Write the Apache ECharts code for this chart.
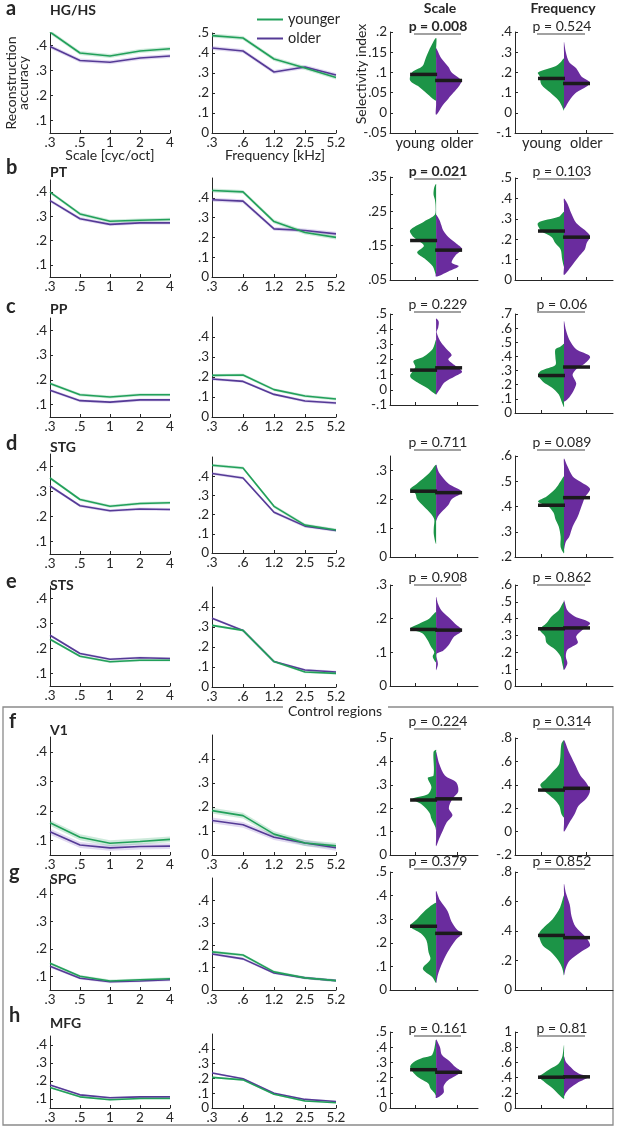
<!DOCTYPE html>
<html>
<head>
<meta charset="utf-8">
<script src="https://cdn.jsdelivr.net/npm/echarts@6/dist/echarts.min.js"></script>
<style>
  html, body { margin: 0; padding: 0; background: #fff; }
  #chart { width: 617px; height: 1128px; }
</style>
</head>
<body>
<div id="chart"></div>
<script>
// ---- data ----
const regions = ['HG/HS', 'PT', 'PP', 'STG', 'STS', 'V1', 'SPG', 'MFG']
const letters = ['a', 'b', 'c', 'd', 'e', 'f', 'g', 'h']
const scaleTicks = ['.3', '.5', '1', '2', '4']
const freqTicks = ['.3', '.6', '1.2', '2.5', '5.2']

const scaleYoung = [
  [0.454, 0.37, 0.358, 0.378, 0.387],
  [0.40, 0.31, 0.28, 0.284, 0.287],
  [0.185, 0.14, 0.131, 0.14, 0.14],
  [0.354, 0.268, 0.241, 0.252, 0.255],
  [0.237, 0.169, 0.147, 0.153, 0.153],
  [0.159, 0.11, 0.09, 0.096, 0.103],
  [0.147, 0.1, 0.083, 0.087, 0.091],
  [0.164, 0.112, 0.096, 0.103, 0.103]
]
const scaleOlder = [
  [0.396, 0.34, 0.333, 0.35, 0.358],
  [0.365, 0.29, 0.267, 0.273, 0.273],
  [0.158, 0.116, 0.11, 0.119, 0.119],
  [0.322, 0.243, 0.223, 0.23, 0.228],
  [0.253, 0.18, 0.157, 0.163, 0.16],
  [0.129, 0.084, 0.074, 0.079, 0.08],
  [0.136, 0.093, 0.08, 0.083, 0.087],
  [0.178, 0.123, 0.107, 0.112, 0.112]
]
const freqYoung = [
  [0.487, 0.475, 0.37, 0.325, 0.277],
  [0.437, 0.43, 0.28, 0.225, 0.2],
  [0.208, 0.21, 0.137, 0.105, 0.09],
  [0.457, 0.443, 0.243, 0.145, 0.12],
  [0.308, 0.283, 0.127, 0.075, 0.068],
  [0.185, 0.164, 0.087, 0.05, 0.038],
  [0.17, 0.156, 0.081, 0.054, 0.042],
  [0.207, 0.19, 0.093, 0.047, 0.035]
]
const freqOlder = [
  [0.425, 0.41, 0.305, 0.33, 0.29],
  [0.39, 0.383, 0.243, 0.235, 0.218],
  [0.19, 0.178, 0.113, 0.08, 0.07],
  [0.414, 0.391, 0.212, 0.14, 0.117],
  [0.344, 0.283, 0.127, 0.085, 0.075],
  [0.144, 0.126, 0.074, 0.05, 0.03],
  [0.161, 0.139, 0.076, 0.054, 0.042],
  [0.237, 0.198, 0.1, 0.058, 0.044]
]
// half width of the shaded error band
const bandScale = [0.008, 0.007, 0.006, 0.006, 0.005, 0.01, 0.005, 0.005]
const bandFreq = [0.01, 0.01, 0.007, 0.008, 0.006, 0.012, 0.006, 0.006]

// violin outlines: [value, relative half width]
const violinScaleYoung = [
  [[0.185, 0], [0.155, 0.27], [0.135, 0.4], [0.115, 0.53], [0.1, 0.93], [0.08, 1], [0.065, 0.67], [0.05, 0.4], [0.035, 0.13], [0.03, 0]],
  [[0.33, 0], [0.32, 0.07], [0.3, 0.1], [0.285, 0.05], [0.265, 0.02], [0.24, 0.05], [0.22, 0.47], [0.195, 1], [0.175, 0.87], [0.15, 0.47], [0.13, 0.73], [0.11, 0.4], [0.09, 0.13], [0.065, 0]],
  [[0.33, 0], [0.27, 0.13], [0.22, 0.47], [0.19, 0.87], [0.15, 0.8], [0.09, 1], [0.05, 0.73], [0.01, 0.33], [-0.03, 0]],
  [[0.32, 0], [0.29, 0.27], [0.255, 0.73], [0.235, 1], [0.22, 0.8], [0.2, 0.73], [0.175, 0.47], [0.15, 0.2], [0.13, 0.07], [0.1, 0.09], [0.08, 0.09], [0.055, 0.04], [0.045, 0]],
  [[0.22, 0], [0.2, 0.27], [0.187, 0.6], [0.17, 1], [0.157, 0.53], [0.137, 0.33], [0.117, 0.2], [0.1, 0.07], [0.087, 0.13], [0.07, 0]],
  [[0.45, 0], [0.44, 0.1], [0.34, 0.1], [0.33, 0.32], [0.29, 0.18], [0.26, 0.32], [0.24, 0.91], [0.215, 0.54], [0.18, 0.25], [0.155, 0.18], [0.12, 0.03], [0.105, 0]],
  [[0.37, 0], [0.335, 0.44], [0.3, 0.74], [0.27, 1], [0.24, 0.59], [0.21, 0.37], [0.16, 0.29], [0.13, 0.22], [0.09, 0.51], [0.055, 0.15], [0.03, 0]],
  [[0.45, 0], [0.35, 0.15], [0.33, 0.51], [0.3, 0.88], [0.27, 1], [0.22, 0.81], [0.19, 0.59], [0.16, 0.29], [0.13, 0.22], [0.1, 0.07], [0.08, 0]]
]
const violinScaleOlder = [
  [[0.16, 0], [0.135, 0.2], [0.114, 0.47], [0.1, 0.6], [0.08, 0.97], [0.065, 0.87], [0.05, 0.67], [0.035, 0.47], [0.02, 0.27], [-0.005, 0]],
  [[0.24, 0], [0.225, 0.13], [0.21, 0.2], [0.195, 0.27], [0.175, 0.47], [0.155, 0.8], [0.14, 1], [0.12, 0.73], [0.1, 0.6], [0.09, 0.87], [0.075, 0.47], [0.06, 0]],
  [[0.47, 0], [0.45, 0.1], [0.41, 0.08], [0.38, 0.02], [0.31, 0.2], [0.27, 0.4], [0.23, 0.6], [0.2, 0.47], [0.16, 0.73], [0.12, 1], [0.09, 0.73], [0.05, 0.33], [0, 0.13], [-0.03, 0]],
  [[0.32, 0], [0.29, 0.13], [0.255, 0.47], [0.225, 1], [0.2, 0.6], [0.18, 0.47], [0.155, 0.2], [0.14, 0.07], [0.125, 0]],
  [[0.265, 0], [0.245, 0.07], [0.225, 0.2], [0.205, 0.47], [0.185, 0.73], [0.165, 1], [0.145, 0.67], [0.12, 0.47], [0.105, 0.27], [0.095, 0.02], [0.065, 0.07], [0.047, 0]],
  [[0.44, 0], [0.39, 0.12], [0.34, 0.34], [0.31, 0.78], [0.27, 0.85], [0.24, 0.63], [0.2, 0.49], [0.17, 0.63], [0.14, 0.41], [0.105, 0.26], [0.07, 0.12], [0.037, 0]],
  [[0.42, 0], [0.38, 0.15], [0.335, 0.44], [0.29, 0.59], [0.255, 0.81], [0.24, 1], [0.21, 0.74], [0.16, 0.44], [0.11, 0.22], [0.065, 0.07], [0.03, 0]],
  [[0.45, 0], [0.4, 0.15], [0.35, 0.22], [0.31, 0.51], [0.27, 0.74], [0.24, 0.96], [0.21, 0.74], [0.18, 0.44], [0.145, 0.29], [0.1, 0.29], [0.065, 0]]
]
const violinFreqYoung = [
  [[0.27, 0], [0.25, 0.13], [0.23, 0.33], [0.2, 1], [0.18, 0.93], [0.14, 0.87], [0.1, 0.53], [0.06, 0.2], [0.03, 0.07], [0.01, 0]],
  [[0.335, 0], [0.31, 0.2], [0.28, 1], [0.24, 0.87], [0.21, 0.47], [0.18, 0.33], [0.15, 0.13], [0.1, 0.07], [0.065, 0]],
  [[0.49, 0], [0.47, 0.13], [0.45, 0.33], [0.39, 0.33], [0.34, 0.33], [0.3, 0.87], [0.27, 1], [0.22, 0.8], [0.18, 0.47], [0.13, 0.2], [0.07, 0.07], [0.04, 0]],
  [[0.52, 0], [0.5, 0.13], [0.47, 0.33], [0.44, 0.67], [0.42, 1], [0.4, 0.6], [0.375, 0.4], [0.35, 0.33], [0.32, 0.2], [0.28, 0.13], [0.24, 0.13], [0.215, 0]],
  [[0.5, 0], [0.45, 0.2], [0.415, 0.47], [0.375, 0.67], [0.335, 0.93], [0.295, 0.73], [0.255, 0.67], [0.215, 0.33], [0.175, 0.13], [0.135, 0.07], [0.095, 0]],
  [[0.78, 0], [0.75, 0.1], [0.58, 0.18], [0.52, 0.4], [0.45, 0.69], [0.4, 0.91], [0.35, 0.76], [0.28, 0.4], [0.22, 0.18], [0.15, 0.1], [0.12, 0]],
  [[0.64, 0], [0.56, 0.15], [0.48, 0.44], [0.43, 0.74], [0.38, 0.96], [0.3, 0.81], [0.26, 0.51], [0.2, 0.22], [0.15, 0.07], [0.1, 0]],
  [[0.83, 0], [0.67, 0.07], [0.58, 0.22], [0.52, 0.51], [0.45, 0.81], [0.41, 0.96], [0.34, 0.74], [0.26, 0.44], [0.16, 0.15], [0.12, 0]]
]
const violinFreqOlder = [
  [[0.35, 0], [0.3, 0.07], [0.25, 0.2], [0.22, 0.47], [0.18, 0.67], [0.15, 1], [0.13, 0.87], [0.1, 0.47], [0.06, 0.2], [0.02, 0]],
  [[0.4, 0], [0.375, 0.13], [0.33, 0.27], [0.28, 0.47], [0.245, 0.8], [0.215, 1], [0.18, 0.87], [0.15, 0.8], [0.12, 0.6], [0.065, 0.27], [0.025, 0]],
  [[0.65, 0], [0.59, 0.07], [0.52, 0.2], [0.45, 0.47], [0.4, 1], [0.35, 0.8], [0.31, 0.47], [0.27, 0.33], [0.21, 0.47], [0.17, 0.4], [0.11, 0.2], [0.08, 0]],
  [[0.59, 0], [0.56, 0.13], [0.52, 0.33], [0.5, 0.6], [0.47, 1], [0.435, 0.8], [0.4, 0.67], [0.36, 0.53], [0.32, 0.33], [0.28, 0.2], [0.26, 0.07], [0.23, 0]],
  [[0.51, 0], [0.45, 0.13], [0.415, 0.4], [0.375, 1], [0.335, 0.73], [0.295, 0.47], [0.255, 0.53], [0.215, 0.13], [0.175, 0.07], [0.135, 0.13], [0.095, 0]],
  [[0.78, 0], [0.68, 0.19], [0.58, 0.41], [0.48, 0.63], [0.42, 0.85], [0.35, 1], [0.28, 0.85], [0.22, 0.56], [0.15, 0.41], [0.07, 0.19], [0, 0]],
  [[0.72, 0], [0.66, 0.07], [0.58, 0.22], [0.5, 0.29], [0.43, 0.44], [0.35, 0.88], [0.3, 1], [0.26, 0.66], [0.2, 0.22], [0.15, 0.07], [0.1, 0]],
  [[0.68, 0], [0.61, 0.07], [0.55, 0.22], [0.48, 0.44], [0.44, 0.66], [0.41, 0.96], [0.33, 0.51], [0.26, 0.22], [0.2, 0.07], [0.15, 0]]
]
const medScaleYoung = [0.095, 0.165, 0.13, 0.228, 0.168, 0.235, 0.27, 0.252]
const medScaleOlder = [0.08, 0.137, 0.145, 0.223, 0.166, 0.24, 0.24, 0.235]
const medFreqYoung = [0.17, 0.24, 0.265, 0.405, 0.34, 0.355, 0.37, 0.405]
const medFreqOlder = [0.145, 0.21, 0.325, 0.435, 0.345, 0.37, 0.355, 0.41]

const pScale = ['p = 0.008', 'p = 0.021', 'p = 0.229', 'p = 0.711', 'p = 0.908', 'p = 0.224', 'p = 0.379', 'p = 0.161']
const pFreq = ['p = 0.524', 'p = 0.103', 'p = 0.06', 'p = 0.089', 'p = 0.862', 'p = 0.314', 'p = 0.852', 'p = 0.81']
const pScaleBold = [true, true, false, false, false, false, false, false]

// axis ticks
const lineScaleTicks = [0.1, 0.2, 0.3, 0.4]
const lineFreqTicksTop = [0, 0.1, 0.2, 0.3, 0.4, 0.5]
const lineFreqTicks = [0, 0.1, 0.2, 0.3, 0.4]
const vScaleLim = [[-0.05, 0.2], [0.05, 0.35], [-0.1, 0.5], [0, 0.35], [0, 0.3], [0, 0.5], [0, 0.5], [0, 0.5]]
const vScaleTicks = [
  [-0.05, 0, 0.05, 0.1, 0.15, 0.2], [0.05, 0.15, 0.25, 0.35], [-0.1, 0, 0.1, 0.2, 0.3, 0.4, 0.5], [0, 0.1, 0.2, 0.3],
  [0, 0.1, 0.2, 0.3], [0, 0.1, 0.2, 0.3, 0.4, 0.5], [0, 0.1, 0.2, 0.3, 0.4, 0.5], [0, 0.1, 0.2, 0.3, 0.4, 0.5]
]
// panel b has unlabelled ticks between its labels
const vScaleMarksB = [0.05, 0.1, 0.15, 0.2, 0.25, 0.3, 0.35]
const vFreqLim = [[-0.1, 0.4], [0, 0.5], [0, 0.7], [0.2, 0.6], [0, 0.6], [-0.2, 0.8], [0, 0.8], [0, 1]]
const vFreqTicks = [
  [-0.1, 0, 0.1, 0.2, 0.3, 0.4], [0, 0.1, 0.2, 0.3, 0.4, 0.5], [0, 0.1, 0.2, 0.3, 0.4, 0.5, 0.6, 0.7], [0.2, 0.3, 0.4, 0.5, 0.6],
  [0, 0.1, 0.2, 0.3, 0.4, 0.5, 0.6], [-0.2, 0, 0.2, 0.4, 0.6, 0.8], [0, 0.2, 0.4, 0.6, 0.8], [0, 0.2, 0.4, 0.6, 0.8, 1]
]

// ---- layout (pixels) ----
const rowLayout = [
  { lab: 9, name: 10, p: 26, l1: [33, 133], l2: [33, 133], v1: [32, 133], v2: [32, 133] },
  { lab: 168, name: 172, p: 171, l1: [180, 277], l2: [178, 277], v1: [177, 280], v2: [178, 280] },
  { lab: 307, name: 309, p: 304, l1: [318, 417], l2: [317, 417], v1: [314, 405], v2: [314, 413] },
  { lab: 444, name: 447, p: 442, l1: [454, 554], l2: [457, 553], v1: [456, 557], v2: [456, 557] },
  { lab: 582, name: 585, p: 577, l1: [586, 686], l2: [587, 687], v1: [585, 686], v2: [585, 686] },
  { lab: 722, name: 730, p: 721, l1: [737, 855], l2: [735, 855], v1: [738, 855], v2: [738, 855] },
  { lab: 873, name: 879, p: 861, l1: [880, 990], l2: [878, 990], v1: [872, 990], v2: [872, 990] },
  { lab: 1016, name: 1023, p: 1028, l1: [1036, 1108], l2: [1034, 1108], v1: [1032, 1108], v2: [1032, 1108] }
]

const FONT = 'Lato'
const INK = '#262626'
const GREEN_LINE = '#22a05a'
const PURPLE_LINE = '#553a96'
const GREEN_BAND = 'rgba(34,160,90,0.22)'
const PURPLE_BAND = 'rgba(120,80,190,0.22)'
const GREEN_V = '#1c9447'
const PURPLE_V = '#6a2c9e'
const HALF_PX = 26

function tickFmt(v) {
  return String(+v.toFixed(2)).replace(/^(-?)0\./, '$1.')
}

const grids = []
const xAxes = []
const yAxes = []
const series = []

function addGrid(left, top, width, height) {
  grids.push({ left, top, width, height })
  return grids.length - 1
}

const axisLineStyle = { lineStyle: { color: INK, width: 1 }, onZero: false }

function catAxis(g, ticks) {
  return {
    gridIndex: g, type: 'category', data: ticks, boundaryGap: false,
    axisLine: axisLineStyle,
    axisTick: { inside: true, length: 3, lineStyle: { color: INK }, interval: 0 },
    axisLabel: { interval: 0, color: INK, fontFamily: FONT, fontSize: 13.5, margin: 3 },
    splitLine: { show: false }
  }
}

function valAxis(g, min, max, ticks, marks) {
  return {
    gridIndex: g, type: 'value', min, max,
    axisLine: { show: true, lineStyle: { color: INK, width: 1 } },
    axisTick: { show: true, inside: true, length: 3, lineStyle: { color: INK }, customValues: marks || ticks },
    axisLabel: { color: INK, fontFamily: FONT, fontSize: 13.5, margin: 3, customValues: ticks, formatter: tickFmt },
    splitLine: { show: false }
  }
}

function violinX(g, labels, max) {
  return {
    gridIndex: g, type: 'value', min: 0.4, max,
    axisLine: axisLineStyle,
    axisTick: { show: true, inside: true, length: 3, lineStyle: { color: INK }, customValues: [1, 2] },
    axisLabel: {
      show: labels, color: INK, fontFamily: FONT, fontSize: 14.5, margin: 3, customValues: [1, 2],
      formatter: v => (v === 1 ? 'young' : 'older')
    },
    splitLine: { show: false }
  }
}

function addLines(g, young, older, band) {
  [[older, PURPLE_BAND], [young, GREEN_BAND]].forEach(([vals, color], k) => {
    const stack = 'band' + g + '_' + k
    series.push({
      type: 'line', xAxisIndex: g, yAxisIndex: g, stack, silent: true, z: 1,
      data: vals.map(v => v - band), symbol: 'none', lineStyle: { opacity: 0 }
    })
    series.push({
      type: 'line', xAxisIndex: g, yAxisIndex: g, stack, silent: true, z: 1,
      data: vals.map(() => 2 * band), symbol: 'none', lineStyle: { opacity: 0 },
      areaStyle: { color, opacity: 1 }
    })
  })
  series.push({
    name: 'older', type: 'line', xAxisIndex: g, yAxisIndex: g, data: older,
    symbol: 'none', lineStyle: { color: PURPLE_LINE, width: 1.6 }, itemStyle: { color: PURPLE_LINE }, z: 3
  })
  series.push({
    name: 'younger', type: 'line', xAxisIndex: g, yAxisIndex: g, data: young,
    symbol: 'none', lineStyle: { color: GREEN_LINE, width: 1.6 }, itemStyle: { color: GREEN_LINE }, z: 3
  })
}

function addViolin(g, young, older, medY, medO) {
  [[young, -1, GREEN_V], [older, 1, PURPLE_V]].forEach(([pts, side, color]) => {
    series.push({
      type: 'custom', xAxisIndex: g, yAxisIndex: g, silent: true, z: 2,
      data: pts.map(p => [1.5, p[0]]),
      renderItem: (params, api) => {
        if (params.dataIndex !== 0) return null
        const edge = pts.map(p => {
          const c = api.coord([1.5, p[0]])
          return [c[0] + side * p[1] * HALF_PX, c[1]]
        })
        const back = pts.slice(1, -1).reverse().map(p => api.coord([1.5, p[0]]))
        return {
          type: 'polygon',
          shape: { points: edge.concat(back), smooth: 0.3 },
          style: { fill: color }
        }
      }
    })
  })
  series.push({
    type: 'custom', xAxisIndex: g, yAxisIndex: g, silent: true, z: 4,
    data: [[1.5, medY, -1], [1.5, medO, 1]],
    renderItem: (params, api) => {
      const c = api.coord([api.value(0), api.value(1)])
      const side = api.value(2)
      return {
        type: 'line',
        shape: { x1: c[0] - side, y1: c[1], x2: c[0] + side * HALF_PX, y2: c[1] },
        style: { stroke: '#1b1b1b', lineWidth: 3.5 }
      }
    }
  })
}

const graphic = []
const center = { align: 'center', verticalAlign: 'middle', fill: INK }
function label(x, y, str, font, align) {
  graphic.push({
    type: 'text', x, y, silent: true,
    style: { text: str, font, fill: INK, align: align || 'left', verticalAlign: 'middle' }
  })
}

rowLayout.forEach((L, r) => {
  let g = addGrid(50, L.l1[0], 120, L.l1[1] - L.l1[0])
  xAxes.push(catAxis(g, scaleTicks))
  yAxes.push(valAxis(g, 0.05, 0.45, lineScaleTicks))
  addLines(g, scaleYoung[r], scaleOlder[r], bandScale[r])

  g = addGrid(212, L.l2[0], 124, L.l2[1] - L.l2[0])
  xAxes.push(catAxis(g, freqTicks))
  yAxes.push(valAxis(g, 0, 0.5, r === 0 ? lineFreqTicksTop : lineFreqTicks))
  addLines(g, freqYoung[r], freqOlder[r], bandFreq[r])

  g = addGrid(390, L.v1[0], 88, L.v1[1] - L.v1[0])
  xAxes.push(violinX(g, r === 0, 2.5))
  yAxes.push(valAxis(g, vScaleLim[r][0], vScaleLim[r][1], vScaleTicks[r], r === 1 ? vScaleMarksB : null))
  addViolin(g, violinScaleYoung[r], violinScaleOlder[r], medScaleYoung[r], medScaleOlder[r])

  g = addGrid(515, L.v2[0], 98, L.v2[1] - L.v2[0])
  xAxes.push(violinX(g, r === 0, 2.6))
  yAxes.push(valAxis(g, vFreqLim[r][0], vFreqLim[r][1], vFreqTicks[r]))
  addViolin(g, violinFreqYoung[r], violinFreqOlder[r], medFreqYoung[r], medFreqOlder[r])

  // row letter, region, p values with underline
  label(r < 5 ? 6 : 9, L.lab, letters[r], 'bold 20px ' + FONT)
  label(50, L.name, regions[r], 'bold 14px ' + FONT)
  label(438, L.p, pScale[r], (pScaleBold[r] ? 'bold ' : '') + '14px ' + FONT, 'center')
  label(562, L.p, pFreq[r], '14px ' + FONT, 'center')
  graphic.push({ type: 'line', silent: true, shape: { x1: 414, y1: L.p + 8, x2: 461, y2: L.p + 8 }, style: { stroke: '#444', lineWidth: 1.2 } })
  graphic.push({ type: 'line', silent: true, shape: { x1: 537, y1: L.p + 8, x2: 585, y2: L.p + 8 }, style: { stroke: '#444', lineWidth: 1.2 } })
})

// titles and axis names
graphic.push({ type: 'text', x: 440, y: 8, silent: true, style: Object.assign({ text: 'Scale', font: 'bold 14px ' + FONT }, center) })
graphic.push({ type: 'text', x: 563, y: 8, silent: true, style: Object.assign({ text: 'Frequency', font: 'bold 14px ' + FONT }, center) })
graphic.push({ type: 'text', x: 110, y: 155, silent: true, style: Object.assign({ text: 'Scale [cyc/oct]', font: '14px ' + FONT }, center) })
graphic.push({ type: 'text', x: 275, y: 155, silent: true, style: Object.assign({ text: 'Frequency [kHz]', font: '14px ' + FONT }, center) })
graphic.push({ type: 'text', x: 17, y: 83, rotation: Math.PI / 2, silent: true, style: Object.assign({ text: 'Reconstruction\naccuracy', font: '14px ' + FONT, lineHeight: 12 }, center) })
graphic.push({ type: 'text', x: 361, y: 74, rotation: Math.PI / 2, silent: true, style: Object.assign({ text: 'Selectivity index', font: '14px ' + FONT }, center) })

// control regions box
graphic.push({
  type: 'polyline', silent: true,
  shape: { points: [[283, 707], [3, 707], [3, 1125], [613, 1125], [613, 707], [388, 707]] },
  style: { stroke: '#8a8a8a', lineWidth: 1.3, fill: null }
})
graphic.push({ type: 'text', x: 335, y: 711, silent: true, style: Object.assign({ text: 'Control regions', font: '14px ' + FONT }, center) })

const chart = echarts.init(document.getElementById('chart'))
chart.setOption({
  animation: false,
  backgroundColor: '#fff',
  legend: {
    data: ['younger', 'older'], orient: 'vertical', left: 257, top: 12, padding: 0,
    icon: 'rect', itemWidth: 26, itemHeight: 2, itemGap: 4,
    textStyle: { fontFamily: FONT, fontSize: 14.5, color: INK, lineHeight: 12 }
  },
  grid: grids,
  xAxis: xAxes,
  yAxis: yAxes,
  series,
  graphic
})
</script>
</body>
</html>
